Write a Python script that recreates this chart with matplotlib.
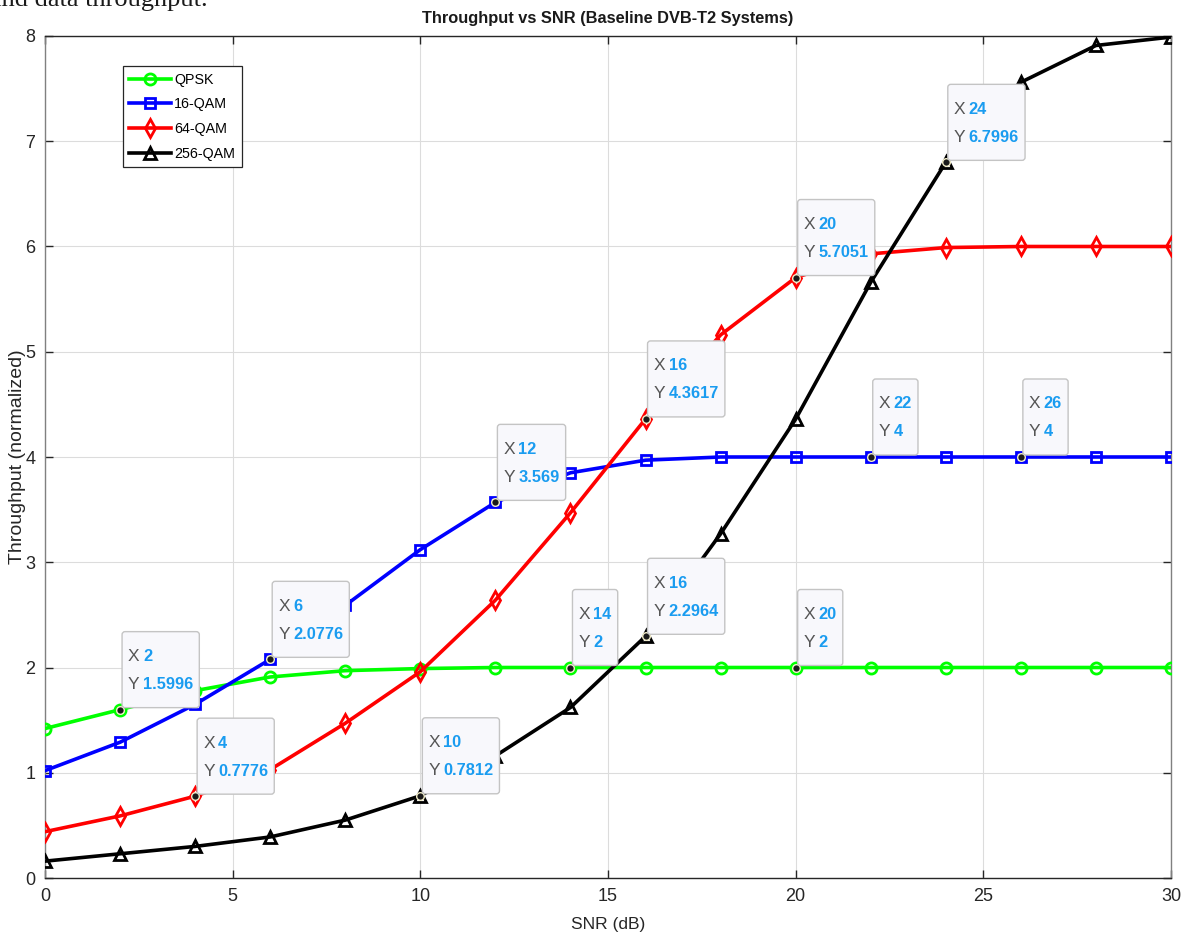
import matplotlib
matplotlib.use("Agg")
import matplotlib.pyplot as plt
from matplotlib.patches import FancyBboxPatch
from matplotlib.transforms import IdentityTransform

snr = [0, 2, 4, 6, 8, 10, 12, 14, 16, 18, 20, 22, 24, 26, 28, 30]
qpsk = [1.42, 1.5996, 1.78, 1.91, 1.97, 1.99, 2.0, 2.0, 2.0, 2.0, 2.0, 2.0, 2.0, 2.0, 2.0, 2.0]
qam16 = [1.02, 1.29, 1.65, 2.0776, 2.59, 3.12, 3.569, 3.85, 3.97, 4.0, 4.0, 4.0, 4.0, 4.0, 4.0, 4.0]
qam64 = [0.44, 0.59, 0.7776, 1.03, 1.47, 1.96, 2.64, 3.47, 4.3617, 5.16, 5.7051, 5.93, 5.99, 6.0, 6.0, 6.0]
qam256 = [0.16, 0.23, 0.30, 0.39, 0.55, 0.7812, 1.16, 1.62, 2.2964, 3.27, 4.36, 5.66, 6.7996, 7.56, 7.91, 7.99]

series_names = ["QPSK", "16-QAM", "64-QAM", "256-QAM"]
series_vals = [qpsk, qam16, qam64, qam256]
series_colors = ["#00ff00", "#0000ff", "#ff0000", "#000000"]
series_markers = ["o", "s", "d", "^"]

# data tips
tips_x = [2, 4, 6, 10, 12, 14, 16, 16, 20, 20, 22, 24, 26]
tips_y = [1.5996, 0.7776, 2.0776, 0.7812, 3.569, 2, 2.2964, 4.3617, 5.7051, 2, 4, 6.7996, 4]
tips_xs = ["2", "4", "6", "10", "12", "14", "16", "16", "20", "20", "22", "24", "26"]
tips_ys = ["1.5996", "0.7776", "2.0776", "0.7812", "3.569", "2", "2.2964", "4.3617", "5.7051", "2", "4", "6.7996", "4"]

SANS = ["Liberation Sans", "DejaVu Sans"]

fig = plt.figure(figsize=(11.84, 9.46), dpi=100)
ax = fig.add_axes([45/1184, 1 - 878/946, (1171 - 45)/1184, (878 - 36)/946])

marker_sizes = {"o": 8, "s": 7, "d": 9, "^": 8.5}
for name, vals, c, m in zip(series_names, series_vals, series_colors, series_markers):
    ax.plot(snr, vals, color=c, lw=2.6, marker=m, markersize=marker_sizes[m],
            markerfacecolor="none", markeredgecolor=c, markeredgewidth=2.0,
            label=name, zorder=3)

ax.set_xlim(0, 30)
ax.set_ylim(0, 8)
ax.set_xticks(range(0, 31, 5))
ax.set_yticks(range(0, 9))
ax.grid(True, color="#dcdcdc", lw=0.8, zorder=0)
ax.set_axisbelow(True)
ax.tick_params(direction="in", length=6, width=1, top=True, right=True,
               colors="#262626", labelsize=13, pad=7)
for lab in ax.get_xticklabels() + ax.get_yticklabels():
    lab.set_family(SANS)
    lab.set_color("#262626")
for sp in ax.spines.values():
    sp.set_color("#262626")
    sp.set_linewidth(1.0)
ax.spines["right"].set_color("#808080")
ax.spines["left"].set_color("#808080")

ax.set_title("Throughput vs SNR (Baseline DVB-T2 Systems)", family=SANS,
             fontsize=11.8, fontweight="bold", color="#1a1a1a", pad=9)
ax.set_xlabel("SNR (dB)", family=SANS, fontsize=12.5, color="#262626", labelpad=9)
ax.set_ylabel("Throughput (normalized)", family=SANS,
              fontsize=14, color="#262626")
ax.yaxis.set_label_coords(-0.017, 0.5)

leg = ax.legend(loc="upper left", bbox_to_anchor=(0.069, 0.964), fancybox=False,
                edgecolor="#262626", framealpha=1, prop={"family": SANS, "size": 10.3},
                handlelength=2.9, borderpad=0.45, labelspacing=0.75, handletextpad=0.25,
                borderaxespad=0)
leg.get_frame().set_linewidth(0.9)
leg.set_zorder(6)

# data tip markers
ax.plot(tips_x, tips_y, linestyle="none", marker="o", markersize=5.5,
        markerfacecolor="#1a1a1a", markeredgecolor="#f2edc8", markeredgewidth=1.0, zorder=7)

tip_texts = []
for tx, ty, sx, sy in zip(tips_x, tips_y, tips_xs, tips_ys):
    ax.annotate("X", (tx, ty), xytext=(8, 53), textcoords="offset pixels",
                ha="left", va="center", family=SANS, fontsize=12.5, color="#555555", zorder=9)
    t2 = ax.annotate(sx, (tx, ty), xytext=(23, 53), textcoords="offset pixels",
                     ha="left", va="center", family=SANS, fontsize=11.8, fontweight="bold",
                     color="#1a9cf0", zorder=9)
    ax.annotate("Y", (tx, ty), xytext=(8, 25), textcoords="offset pixels",
                ha="left", va="center", family=SANS, fontsize=12.5, color="#555555", zorder=9)
    t4 = ax.annotate(sy, (tx, ty), xytext=(23, 25), textcoords="offset pixels",
                     ha="left", va="center", family=SANS, fontsize=11.8, fontweight="bold",
                     color="#1a9cf0", zorder=9)
    tip_texts.append((tx, ty, t2, t4))

fig.canvas.draw()
renderer = fig.canvas.get_renderer()
for tx, ty, t2, t4 in tip_texts:
    px, py = ax.transData.transform((tx, ty))
    right = max(t2.get_window_extent(renderer).x1, t4.get_window_extent(renderer).x1) + 6
    left = px + 2
    bottom = py + 2
    box = FancyBboxPatch((left, bottom), right - left, 76,
                         boxstyle="round,pad=0,rounding_size=3",
                         transform=IdentityTransform(), facecolor="#f8f8fc",
                         edgecolor="#c4c4c4", linewidth=1.0, zorder=8)
    box.set_clip_on(False)
    ax.add_artist(box)

fig.text(-10/1184, 1 - 6/946, "and data throughput.", family=["Liberation Serif", "DejaVu Serif"],
         fontsize=19, ha="left", va="baseline", color="#1a1a1a")

fig.savefig("out.png", dpi=100)
